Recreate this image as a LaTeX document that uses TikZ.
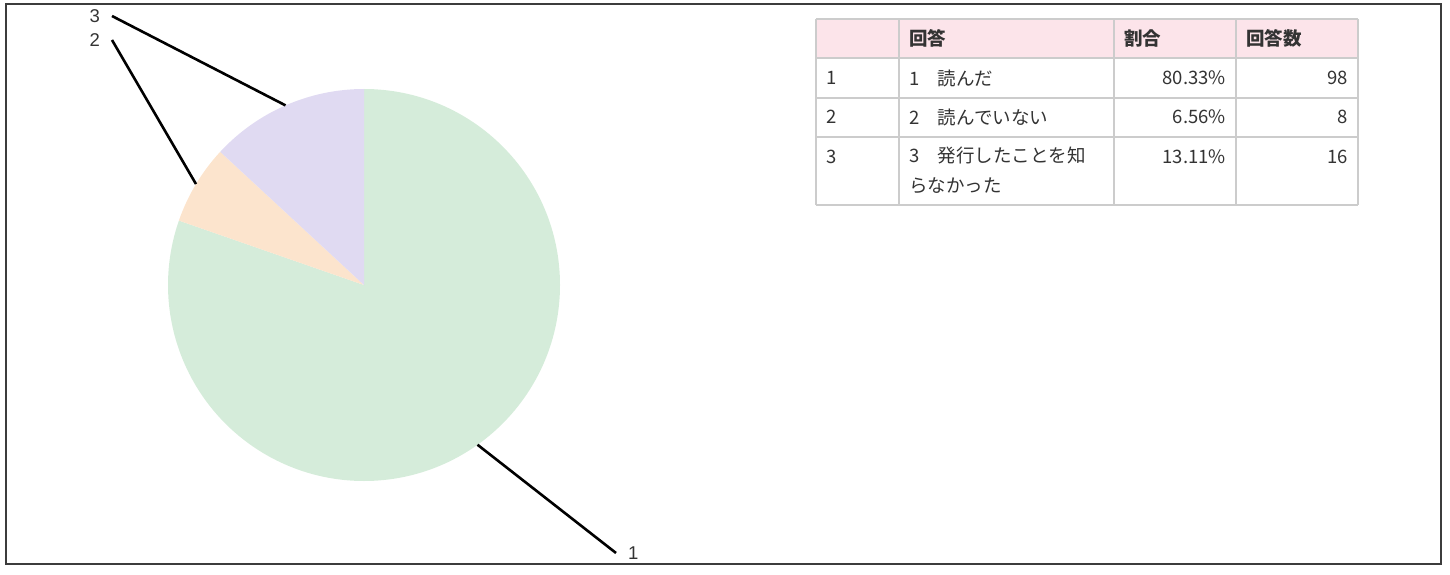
\documentclass[tikz,border=0pt]{standalone}
\usepackage{fontspec}
\usetikzlibrary{calc}
\setmainfont{Liberation Sans}
\newfontfamily\jpfont{Noto Sans CJK JP}
\definecolor{readgreen}{RGB}{213,236,218}
\definecolor{notpeach}{RGB}{252,228,205}
\definecolor{unknownlilac}{RGB}{224,218,242}
\definecolor{headpink}{RGB}{252,228,234}
\definecolor{rulegray}{RGB}{204,204,204}
\definecolor{cellink}{RGB}{51,51,51}
\definecolor{framegray}{RGB}{60,60,60}

\begin{document}
\begin{tikzpicture}[x=1pt,y=1pt,
		leader/.style={black,line width=2.6pt},
		pielabel/.style={font=\fontsize{18.5}{18.5}\selectfont,text=cellink,inner sep=1pt,outer sep=11pt},
		cell/.style={font=\jpfont\fontsize{18.5}{30}\selectfont,text=cellink,inner sep=0pt,anchor=west},
		numcell/.style={cell,anchor=east},
		head/.style={cell,font=\jpfont\bfseries\fontsize{18.5}{30}\selectfont},
		grid line/.style={rulegray,line width=2pt}]

		\useasboundingbox (0,0) rectangle (1450,574);
		\draw [framegray,line width=2pt] (6,10) rectangle (1441,570);

		% pie, clockwise from the top
		\coordinate (c) at (364,289);
		\fill [readgreen] (c) -- ++(90:196) arc [start angle=90, end angle=-199.19, radius=196] -- cycle;
		\fill [notpeach] (c) -- ++(-199.19:196) arc [start angle=-199.19, end angle=-222.81, radius=196] -- cycle;
		\fill [unknownlilac] (c) -- ++(-222.81:196) arc [start angle=-222.81, end angle=-270, radius=196] -- cycle;

		\coordinate (e1) at ($(c)+(-54.6:196)$);
		\coordinate (e2) at ($(c)+(149:196)$);
		\coordinate (e3) at ($(c)+(113.6:196)$);
		\node [pielabel, anchor=west] (l1) at (616,21) {1};
		\node [pielabel, anchor=east] (l2) at (112,534) {2};
		\node [pielabel, anchor=east] (l3) at (112,558) {3};
		\draw [leader] (e1) -- (l1.west);
		\draw [leader] (e2) -- (l2.east);
		\draw [leader] (e3) -- (l3.east);

		% table
		\fill [headpink] (816,516) rectangle (1358,555);
		\foreach \y in {555,516,476,437,369}
			\draw [grid line] (816,\y) -- (1358,\y);
		\foreach \x in {816,899,1114,1236,1358}
			\draw [grid line] (\x,369) -- (\x,555);

		\node [head] (h2) at (909,536) {回答};
		\node [head] (h3) at (1124,536) {割合};
		\node [head] (h4) at (1246,536) {回答数};

		\node [cell] (r1c1) at (826,496) {1};
		\node [cell] (r1c2) at (909,496) {1　読んだ};
		\node [numcell] (r1c3) at (1226,496) {80.33\%};
		\node [numcell] (r1c4) at (1348,496) {98};

		\node [cell] (r2c1) at (826,457) {2};
		\node [cell] (r2c2) at (909,457) {2　読んでいない};
		\node [numcell] (r2c3) at (1226,457) {6.56\%};
		\node [numcell] (r2c4) at (1348,457) {8};

		\node [cell] (r3c1) at (826,417) {3};
		\node [cell, anchor=north west, align=left] (r3c2) at (909,427) {3　発行したことを知\\らなかった};
		\node [numcell] (r3c3) at (1226,417) {13.11\%};
		\node [numcell] (r3c4) at (1348,417) {16};

\end{tikzpicture}
\end{document}
